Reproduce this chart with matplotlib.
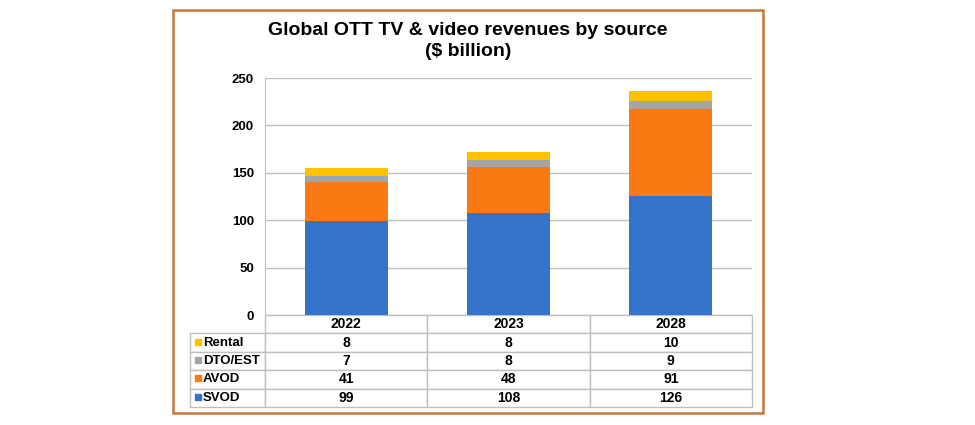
import matplotlib.pyplot as plt
from matplotlib.patches import Rectangle
import numpy as np

plt.rcParams['font.family'] = ['Liberation Sans', 'DejaVu Sans']

# datos
years = ["2022", "2023", "2028"]
svod = [99, 108, 126]
avod = [41, 48, 91]
dto = [7, 8, 9]
rental = [8, 8, 10]
series_names = ["Rental", "DTO/EST", "AVOD", "SVOD"]
colors = {"SVOD": "#3373C9", "AVOD": "#F97A12", "DTO/EST": "#A5A5A5", "Rental": "#FFC000"}
yticks = [0, 50, 100, 150, 200, 250]

fig = plt.figure(figsize=(9.75, 4.25), dpi=100)

# marco naranja
fig.patches.append(Rectangle((0.1774, 0.028), 0.605, 0.948, transform=fig.transFigure,
                             fill=False, edgecolor="#C8793A", linewidth=1.8))

ax = fig.add_axes([0.2718, 0.2588, 0.4995, 0.5576])

x = np.arange(len(years))
bottom = np.zeros(len(years))
for name, vals in [("SVOD", svod), ("AVOD", avod), ("DTO/EST", dto), ("Rental", rental)]:
    ax.bar(x, vals, bottom=bottom, width=0.51, color=colors[name], zorder=3)
    bottom += np.array(vals)

ax.set_xlim(-0.5, len(years) - 0.5)
ax.set_ylim(0, 250)
ax.set_yticks(yticks)
ax.set_yticklabels([str(t) for t in yticks], fontweight='bold', fontsize=9.5)
ax.set_xticks([])
ax.tick_params(axis='y', length=0, pad=8)
ax.grid(axis='y', color="#BFBFBF", linewidth=1, zorder=0)
for s in ["top", "right", "bottom"]:
    ax.spines[s].set_visible(False)
ax.spines["left"].set_color("#BFBFBF")

fig.text(0.48, 0.903, "Global OTT TV & video revenues by source\n($ billion)",
         ha='center', va='center', fontsize=14, fontweight='bold', linespacing=1.3)

# tabla de datos
table_vals = {"Rental": rental, "DTO/EST": dto, "AVOD": avod, "SVOD": svod}
cell_text = [[""] + years] + [[n] + [str(v) for v in table_vals[n]] for n in series_names]
lab_w = 0.154
tbl = ax.table(cellText=cell_text, bbox=[-lab_w, -0.388, 1 + lab_w, 0.388],
               colWidths=[lab_w, 1/3, 1/3, 1/3], cellLoc='center')
tbl.auto_set_font_size(False)
for (r, c), cell in tbl.get_celld().items():
    cell.set_edgecolor("#BFBFBF")
    cell.set_linewidth(1)
    cell.get_text().set_fontweight('bold')
    cell.get_text().set_fontsize(10)
    if c == 0:
        cell.get_text().set_ha('left')
        cell.get_text().set_fontsize(9.5)
        cell.PAD = 0.17
    if r == 0 and c == 0:
        cell.visible_edges = ''

# cuadritos de color de la leyenda
row_h = 0.388 / 5
for i, n in enumerate(series_names):
    yc = -row_h * (i + 1.5) + 0.004
    ax.plot([-lab_w + 0.017], [yc], marker='s', markersize=4.5, color=colors[n],
            transform=ax.transAxes, clip_on=False, zorder=5)

fig.savefig("out.png", dpi=100)
